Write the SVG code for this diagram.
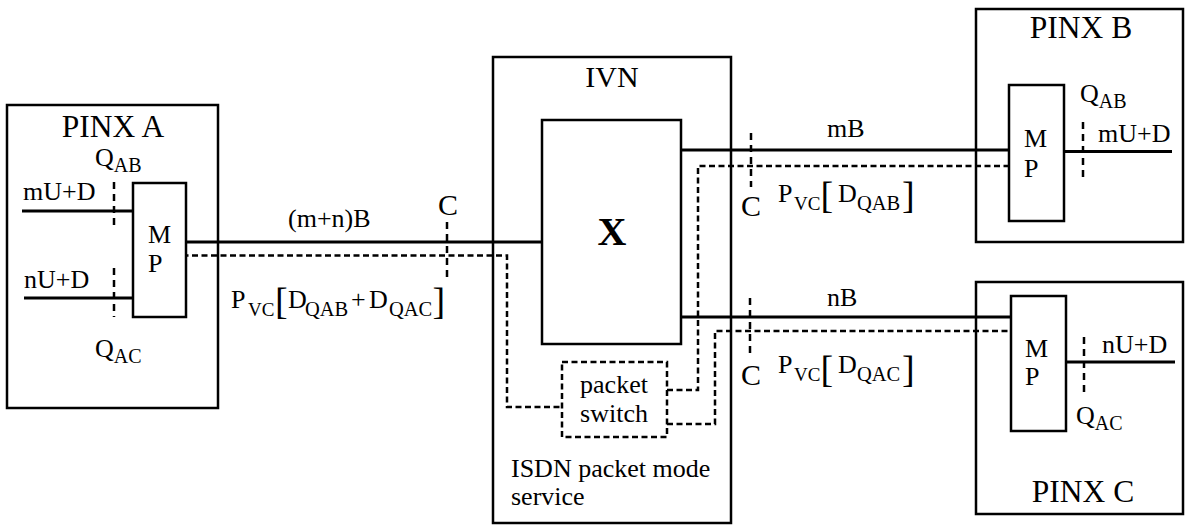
<svg xmlns="http://www.w3.org/2000/svg" width="1186" height="525" viewBox="0 0 1186 525">
<style>
text{font-family:"Liberation Serif","Times New Roman",serif;fill:#000;font-size:26px}
.big{font-size:30px}
.pinx{font-size:31.5px}
.sub{font-size:20px}
.vc{font-size:19px}
.sb{font-size:20.5px}
.br{font-size:38px}
.box{fill:#fff;stroke:#000;stroke-width:2.5}
.dbox{fill:#fff;stroke:#000;stroke-width:2.5;stroke-dasharray:6 3.5}
.ln{fill:none;stroke:#000;stroke-width:3}
.dl{fill:none;stroke:#000;stroke-width:2.5;stroke-dasharray:6 3.5}
.qd{fill:none;stroke:#000;stroke-width:2.5;stroke-dasharray:7 5}
</style>
<rect width="1186" height="525" fill="#fff"/>
<g id="pinxA">
<rect class="box" x="7" y="105" width="211" height="303"/>
<text class="pinx" x="113" y="137" text-anchor="middle">PINX A</text>
</g>
<g id="ivn">
<rect class="box" x="493" y="57" width="238" height="466"/>
<text class="big" x="612" y="87" text-anchor="middle">IVN</text>
<text x="511" y="477">ISDN packet mode</text>
<text x="511" y="505">service</text>
</g>
<g id="pinxB">
<rect class="box" x="976" y="9" width="207" height="233"/>
<text class="pinx" x="1081" y="38" text-anchor="middle">PINX B</text>
</g>
<g id="pinxC">
<rect class="box" x="976" y="282" width="207" height="232"/>
<text class="pinx" x="1083" y="502" text-anchor="middle">PINX C</text>
</g>
<g id="connectors">
<path class="ln" d="M186 242H542"/>
<path class="dl" d="M173 255.5H507V407H562"/>
<path class="ln" d="M681 150H1009"/>
<path class="dl" d="M667 390H698V166H1009"/>
<path class="ln" d="M681 317H1011"/>
<path class="dl" d="M667 424H715V331H1011"/>
<path class="ln" d="M22 211H133"/>
<path class="ln" d="M24 298H133"/>
<path class="ln" d="M1064 151.5H1172"/>
<path class="ln" d="M1066 362H1175"/>
</g>
<g id="mpA">
<rect class="box" x="133" y="183" width="53" height="134"/>
<text x="148" y="243">M</text>
<text x="148" y="272">P</text>
</g>
<g id="switchX">
<rect class="box" x="542" y="120" width="139" height="224"/>
<text x="612" y="245" text-anchor="middle" font-weight="bold" style="font-size:40px">X</text>
</g>
<g id="packetSwitch">
<rect class="dbox" x="562" y="362" width="105" height="75"/>
<text x="614" y="393" text-anchor="middle">packet</text>
<text x="614" y="422" text-anchor="middle">switch</text>
</g>
<g id="mpB">
<rect class="box" x="1009" y="85" width="55" height="136"/>
<text x="1024" y="147">M</text>
<text x="1024" y="177">P</text>
</g>
<g id="mpC">
<rect class="box" x="1011" y="296" width="55" height="135"/>
<text x="1025" y="357">M</text>
<text x="1025" y="385">P</text>
</g>
<g id="refpoints">
<path class="qd" d="M114 182V228M114 268V317"/>
<path class="qd" d="M1083 122V182"/>
<path class="qd" d="M1084 337V392"/>
<path class="qd" d="M447 222V282"/>
<path class="qd" d="M751 133V187"/>
<path class="qd" d="M750 298V356"/>
</g>
<g id="labels">
<text x="23" y="200">mU+D</text>
<text x="24" y="288">nU+D</text>
<text x="95" y="166">Q<tspan class="sub" y="172">AB</tspan></text>
<text x="95" y="357">Q<tspan class="sub" y="363">AC</tspan></text>
<text x="288" y="227">(m+n)B</text>
<text class="big" x="438" y="215">C</text>
<text x="231" y="308">P<tspan class="vc" x="248" y="316">VC</tspan></text>
<text class="br" x="275" y="314">[</text>
<text x="288" y="308">D<tspan class="sb" x="305" y="316">QAB</tspan><tspan x="351" y="308">+</tspan><tspan x="369" y="308">D</tspan><tspan class="sb" x="389" y="316">QAC</tspan></text>
<text class="br" x="432.5" y="314">]</text>
<text x="827" y="137">mB</text>
<text x="827" y="306">nB</text>
<text class="big" x="741" y="216">C</text>
<text class="big" x="741" y="385">C</text>
<text x="778" y="202">P<tspan class="vc" x="794" y="210">VC</tspan></text>
<text class="br" x="820.5" y="208">[</text>
<text x="838" y="202">D<tspan class="sb" x="857" y="210">QAB</tspan></text>
<text class="br" x="902" y="208">]</text>
<text x="778" y="373">P<tspan class="vc" x="794" y="381">VC</tspan></text>
<text class="br" x="820.5" y="382">[</text>
<text x="838" y="373">D<tspan class="sb" x="857" y="381">QAC</tspan></text>
<text class="br" x="902" y="382">]</text>
<text x="1080" y="102">Q<tspan class="sub" y="108">AB</tspan></text>
<text x="1098" y="142">mU+D</text>
<text x="1102" y="353">nU+D</text>
<text x="1076" y="424">Q<tspan class="sub" y="430">AC</tspan></text>
</g>
</svg>
